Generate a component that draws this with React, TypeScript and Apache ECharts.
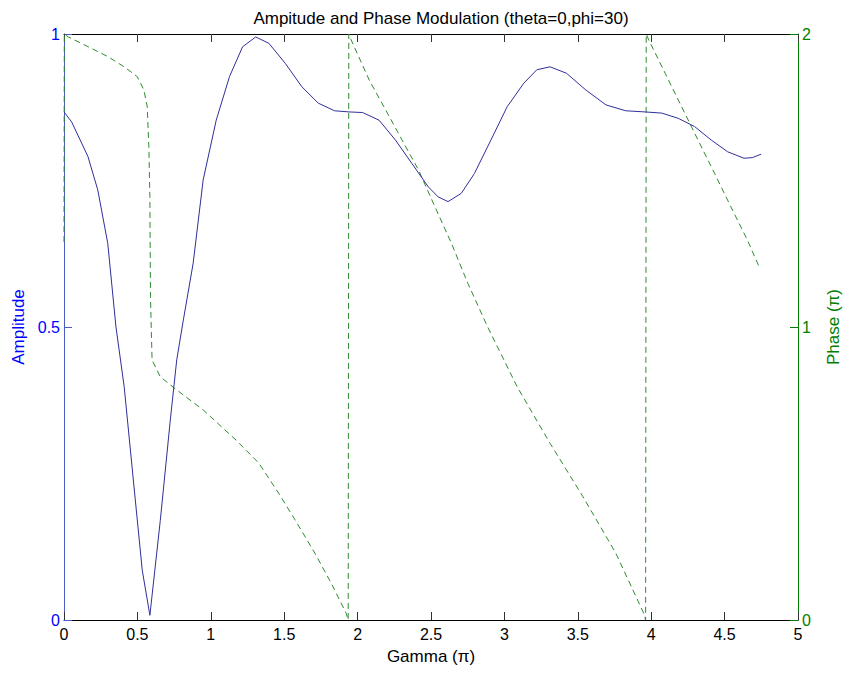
import React, { useEffect, useRef } from "react";
import * as echarts from "echarts";

const titleText = "Ampitude and Phase Modulation (theta=0,phi=30)";
const xTicks = [0, 0.5, 1, 1.5, 2, 2.5, 3, 3.5, 4, 4.5, 5];

// Amplitude curve (gamma in units of pi, amplitude)
const ampX = [0, 0.052, 0.163, 0.23, 0.298, 0.354, 0.41, 0.477, 0.533, 0.585, 0.656, 0.724, 0.768, 0.813, 0.88, 0.948, 1.037, 1.127, 1.216, 1.306, 1.396, 1.507, 1.62, 1.732, 1.843, 1.944, 2.034, 2.146, 2.258, 2.37, 2.482, 2.549, 2.616, 2.706, 2.796, 2.908, 3.019, 3.132, 3.221, 3.311, 3.423, 3.557, 3.692, 3.826, 3.96, 4.073, 4.185, 4.296, 4.409, 4.521, 4.632, 4.689, 4.749];
const ampY = [0.867, 0.85, 0.791, 0.734, 0.643, 0.5, 0.398, 0.227, 0.085, 0.008, 0.17, 0.341, 0.444, 0.512, 0.609, 0.751, 0.853, 0.927, 0.978, 0.995, 0.984, 0.95, 0.91, 0.882, 0.869, 0.867, 0.866, 0.853, 0.819, 0.779, 0.739, 0.722, 0.714, 0.728, 0.762, 0.819, 0.876, 0.916, 0.939, 0.944, 0.933, 0.904, 0.879, 0.869, 0.867, 0.865, 0.856, 0.842, 0.819, 0.799, 0.788, 0.789, 0.795];

// Phase curve (gamma in units of pi, phase in units of pi)
const phaseX = [0, 0.002, 0.029, 0.163, 0.298, 0.41, 0.5, 0.544, 0.567, 0.578, 0.585, 0.589, 0.593, 0.6, 0.656, 0.768, 0.948, 1.172, 1.328, 1.463, 1.575, 1.709, 1.821, 1.922, 1.936, 1.94, 1.956, 2.079, 2.191, 2.303, 2.415, 2.527, 2.639, 2.751, 2.885, 3.087, 3.311, 3.535, 3.759, 3.949, 3.962, 3.966, 3.983, 4.095, 4.207, 4.319, 4.431, 4.543, 4.655, 4.74];
const phaseY = [1.29, 2, 1.99, 1.957, 1.923, 1.888, 1.854, 1.809, 1.752, 1.615, 1.445, 1.103, 1.024, 0.887, 0.83, 0.785, 0.717, 0.614, 0.535, 0.432, 0.341, 0.228, 0.125, 0.023, 0, 2, 1.98, 1.843, 1.741, 1.638, 1.536, 1.41, 1.286, 1.149, 1.001, 0.796, 0.603, 0.421, 0.228, 0.023, 0, 2, 1.98, 1.866, 1.752, 1.638, 1.525, 1.41, 1.297, 1.2];

const FONT = "'Liberation Sans', Arial, sans-serif";
const BLUE = "#0000ff";
const GREEN = "#008000";
const AXIS_BLUE = "#4b5cc4";
const TICK_FS = 16;
const NAME_FS = 17;
const TICK_LEN = 8;

export default function App() {
  const ref = useRef<HTMLDivElement>(null);
  useEffect(() => {
    if (!ref.current) return;
    const chart = echarts.init(ref.current, undefined, { renderer: "svg" });
    const ampData = ampX.map((x, i) => [x, ampY[i]]);
    const phaseData = phaseX.map((x, i) => [x, phaseY[i]]);

    chart.setOption({
      animation: false,
      backgroundColor: "#ffffff",
      textStyle: { fontFamily: FONT },
      title: {
        text: titleText,
        left: 436,
        textAlign: "center",
        top: 5,
        textStyle: { fontFamily: FONT, fontSize: NAME_FS, fontWeight: "normal", color: "#000" },
      },
      grid: { left: 64, right: 42, top: 34, bottom: 53, containLabel: false },
      xAxis: [
        {
          type: "value",
          min: 0,
          max: 5,
          interval: 0.5,
          position: "bottom",
          name: "Gamma (\u03c0)",
          nameLocation: "middle",
          nameGap: 28,
          nameTextStyle: { fontFamily: FONT, fontSize: NAME_FS, color: "#000" },
          axisLine: { show: true, onZero: false, lineStyle: { color: "#000", width: 1 } },
          axisTick: { show: true, inside: true, length: TICK_LEN, lineStyle: { color: "#333", width: 1 } },
          splitLine: { show: false },
          axisLabel: {
            margin: 6,
            fontFamily: FONT,
            fontSize: TICK_FS,
            color: "#000",
            formatter: (v: number) => (xTicks.includes(v) ? String(v) : ""),
          },
        },
        {
          type: "value",
          min: 0,
          max: 5,
          interval: 0.5,
          position: "top",
          axisLine: { show: true, onZero: false, lineStyle: { color: "#000", width: 1 } },
          axisTick: { show: true, inside: true, length: TICK_LEN, lineStyle: { color: "#333", width: 1 } },
          splitLine: { show: false },
          axisLabel: { show: false },
        },
      ],
      yAxis: [
        {
          type: "value",
          min: 0,
          max: 1,
          interval: 0.5,
          position: "left",
          name: "Amplitude",
          nameLocation: "middle",
          nameGap: 36,
          nameRotate: 90,
          nameTextStyle: { fontFamily: FONT, fontSize: NAME_FS, color: BLUE },
          axisLine: { show: true, onZero: false, lineStyle: { color: AXIS_BLUE, width: 1 } },
          axisTick: { show: true, inside: true, length: TICK_LEN, lineStyle: { color: AXIS_BLUE, width: 1 } },
          splitLine: { show: false },
          axisLabel: { margin: 4, fontFamily: FONT, fontSize: TICK_FS, color: BLUE },
        },
        {
          type: "value",
          min: 0,
          max: 2,
          interval: 1,
          position: "right",
          name: "Phase (\u03c0)",
          nameLocation: "middle",
          nameGap: 27,
          nameRotate: 90,
          nameTextStyle: { fontFamily: FONT, fontSize: NAME_FS, color: GREEN },
          axisLine: { show: true, onZero: false, lineStyle: { color: GREEN, width: 1 } },
          axisTick: { show: true, inside: true, length: TICK_LEN, lineStyle: { color: GREEN, width: 1 } },
          splitLine: { show: false },
          axisLabel: { margin: 4, fontFamily: FONT, fontSize: TICK_FS, color: GREEN },
        },
      ],
      series: [
        {
          type: "line",
          name: "Amplitude",
          xAxisIndex: 0,
          yAxisIndex: 0,
          data: ampData,
          showSymbol: false,
          smooth: false,
          lineStyle: { color: "#2f2f9a", width: 1 },
          z: 3,
        },
        {
          type: "line",
          name: "Phase",
          xAxisIndex: 0,
          yAxisIndex: 1,
          data: phaseData,
          showSymbol: false,
          smooth: false,
          lineStyle: { color: "#2e8b2e", width: 1, type: [6, 4] },
          z: 2,
        },
      ],
    });
    return () => chart.dispose();
  }, []);
  return (
    <div
      ref={ref}
      style={{ position: "fixed", left: 0, top: 0, width: 850, height: 673, background: "#fff" }}
    />
  );
}
